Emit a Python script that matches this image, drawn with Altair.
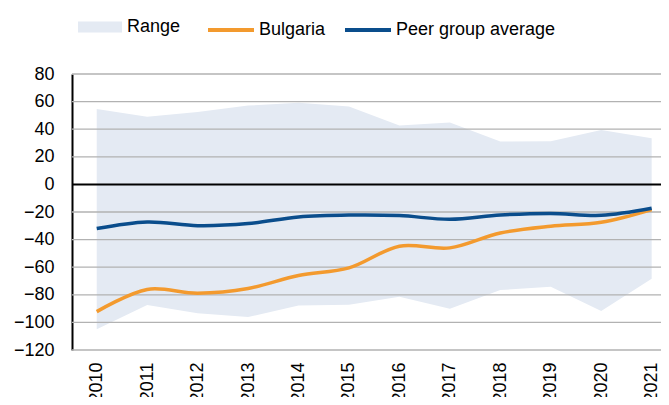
import altair as alt
import pandas as pd

years = list(range(2010, 2022))
bulgaria = [-92.2, -76.1, -78.8, -75.4, -66.0, -60.5, -44.8, -46.0, -35.2, -30.3, -27.5, -18.3]
peer_avg = [-32.0, -27.2, -29.9, -28.4, -23.6, -22.2, -22.6, -25.3, -22.2, -21.0, -22.4, -17.3]
range_high = [54.7, 49.1, 52.5, 57.1, 59.2, 56.4, 42.6, 44.8, 31.1, 31.3, 39.5, 33.5]
range_low = [-105.0, -87.4, -93.4, -96.1, -87.7, -87.2, -81.4, -90.1, -76.6, -74.2, -91.8, -68.4]
y_ticks = [-120, -100, -80, -60, -40, -20, 0, 20, 40, 60, 80]

FONT = "Liberation Sans"

range_df = pd.DataFrame({"year": years, "low": range_low, "high": range_high, "series": "Range"})
lines_df = pd.DataFrame({
    "year": years * 2,
    "value": bulgaria + peer_avg,
    "series": ["Bulgaria"] * len(years) + ["Peer group average"] * len(years),
})
grid_df = pd.DataFrame({"y": [v for v in y_ticks if v != 0]})
zero_df = pd.DataFrame({"y": [0]})

xscale = alt.Scale(domain=[2009.51, 2021.185], nice=False, zero=False)
yscale = alt.Scale(domain=[-120, 80], nice=False)

x_axis = alt.Axis(values=years, format="d", labelAngle=-90, labelFontSize=18, labelFont=FONT,
                  labelColor="black", ticks=False, domain=False, grid=False, labelPadding=12,
                  title=None, labelOverlap=False)
y_axis = alt.Axis(values=y_ticks, labelFontSize=18, labelFont=FONT, labelColor="black",
                  ticks=False, domain=True, domainColor="black", domainWidth=2, grid=False,
                  labelPadding=18, title=None, labelOverlap=False)

area = alt.Chart(range_df).mark_area(opacity=1).encode(
    x=alt.X("year:Q", scale=xscale, axis=x_axis),
    y=alt.Y("high:Q", scale=yscale, axis=y_axis),
    y2="low:Q",
    fill=alt.Fill("series:N", scale=alt.Scale(domain=["Range"], range=["#E4EAF3"]),
                  legend=alt.Legend(orient="none", legendX=6, legendY=-69, direction="horizontal",
                                    title=None, symbolType="M-1,-0.25H1V0.25H-1Z", symbolSize=1936,
                                    symbolStrokeWidth=0, symbolOpacity=1, labelFontSize=18,
                                    labelFont=FONT, labelColor="black", labelOffset=5)),
)

grid = alt.Chart(grid_df).mark_rule(color="#B2B2B2", strokeWidth=1.3).encode(
    y=alt.Y("y:Q", scale=yscale, axis=y_axis)
)

zero = alt.Chart(zero_df).mark_rule(color="black", strokeWidth=2).encode(
    y=alt.Y("y:Q", scale=yscale, axis=y_axis)
)

lines = alt.Chart(lines_df).mark_line(strokeWidth=3.5, interpolate="catmull-rom").encode(
    x=alt.X("year:Q", scale=xscale, axis=x_axis),
    y=alt.Y("value:Q", scale=yscale, axis=y_axis),
    stroke=alt.Stroke("series:N",
                      scale=alt.Scale(domain=["Bulgaria", "Peer group average"], range=["#F39A2E", "#0A4D8C"]),
                      legend=alt.Legend(orient="none", legendX=134, legendY=-69, direction="horizontal",
                                        title=None, symbolType="stroke", symbolSize=2116,
                                        symbolStrokeWidth=4, labelFontSize=18, labelFont=FONT,
                                        labelColor="black", labelOffset=3, columnPadding=11)),
)

chart = alt.layer(area, grid, zero, lines).resolve_scale(fill="independent", stroke="independent").properties(
    width=589, height=276,
    autosize=alt.AutoSizeParams(type="none"),
    padding={"left": 64, "top": 66, "right": 0, "bottom": 47},
).configure_view(stroke=None)

chart.save("out.html", embed_options={"renderer": "svg", "actions": False})
